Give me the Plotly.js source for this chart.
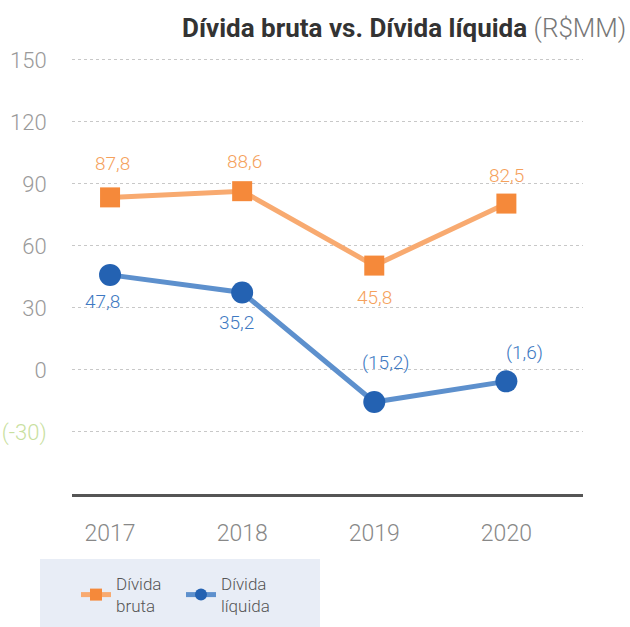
<!DOCTYPE html>
<html><head><meta charset="utf-8">
<script src="https://cdn.plot.ly/plotly-3.0.1.min.js"></script>
<style>body{margin:0;background:#fff}#c{width:630px;height:627px}</style>
</head><body><div id="c"></div>
<script>
const years = ["2017","2018","2019","2020"];
const brutaValues = [83.5, 86.5, 50.5, 80.5];
const liquidaValues = [46, 37.5, -15.5, -5.5];
const brutaLabels = ["87,8","88,6","45,8","82,5"];
const liquidaLabels = ["47,8","35,2","(15,2)","(1,6)"];
const yTicks = [-30, 0, 30, 60, 90, 120, 150];
const yTickText = ["<span style='color:#c9df9f'>(-30)</span>","0","30","60","90","120","150"];

const orange = "#f5893a", orangeLine = "#f8aa70", orangeText = "#f5a15c";
const blue = "#2462b2", blueLine = "#5d90cd", blueText = "#3e79c2";

const brutaOffsets = [[2,34],[2,30],[0,-32],[0,28]];
const liquidaOffsets = [[-8,-27],[-6,-30],[12,40],[18,29]];

const annotations = [];
brutaLabels.forEach((t,i)=>annotations.push({x:i, y:brutaValues[i], xref:'x', yref:'y', text:t, showarrow:false,
  xshift:brutaOffsets[i][0], yshift:brutaOffsets[i][1], font:{family:'Roboto', weight:300, size:19, color:orangeText}}));
liquidaLabels.forEach((t,i)=>annotations.push({x:i, y:liquidaValues[i], xref:'x', yref:'y', text:t, showarrow:false,
  xshift:liquidaOffsets[i][0], yshift:liquidaOffsets[i][1], font:{family:'Roboto', weight:300, size:19, color:blueText}}));
annotations.push({xref:'paper', yref:'paper', x:(628-72)/511, y:(494-28)/444, xanchor:'right', yanchor:'middle', showarrow:false,
  text:"<b>Dívida bruta vs. Dívida líquida</b> <span style='color:#777;font-weight:300'>(R$MM)</span>",
  font:{family:'Roboto', size:26, color:'#333'}});

const data = [
  {x:[0,1,2,3], y:brutaValues, type:'scatter', mode:'lines+markers', name:'Dívida<br>bruta',
   line:{color:orangeLine, width:5}, marker:{symbol:'square', size:20, color:orange}},
  {x:[0,1,2,3], y:liquidaValues, type:'scatter', mode:'lines+markers', name:'Dívida<br>líquida',
   line:{color:blueLine, width:5}, marker:{symbol:'circle', size:22, color:blue}}
];

const layout = {
  width:630, height:627,
  margin:{l:72, r:47, t:50, b:133, autoexpand:false},
  paper_bgcolor:'#fff', plot_bgcolor:'#fff',
  showlegend:true,
  xaxis:{range:[-0.288,3.58], tickvals:[0,1,2,3], ticktext:years, showgrid:false, zeroline:false,
    showline:true, linecolor:'#555', linewidth:3, ticks:'outside', ticklen:16, tickcolor:'rgba(0,0,0,0)',
    tickfont:{family:'Roboto', weight:300, size:23, color:'#888'}},
  yaxis:{range:[-60,154.8], tickvals:yTicks, ticktext:yTickText, showgrid:true, gridcolor:'#c8c8c8', griddash:'dot', gridwidth:1,
    zeroline:false, ticks:'outside', ticklen:20, tickcolor:'rgba(0,0,0,0)',
    tickfont:{family:'Roboto', weight:300, size:22, color:'#9a9a9a'}},
  shapes:[{type:'rect', xref:'paper', yref:'paper', x0:(40-72)/511, x1:(320-72)/511, y0:(494-559)/444, y1:(494-640)/444,
    fillcolor:'#e8edf6', line:{width:0}, layer:'below'}],
  legend:{orientation:'h', x:(76-72)/511, xanchor:'left', y:(494-566)/444, yanchor:'top', bgcolor:'rgba(0,0,0,0)',
    font:{family:'Roboto', weight:300, size:17, color:'#555'}, itemsizing:'constant', itemwidth:30,
    entrywidth:60, entrywidthmode:'pixels'},
  annotations:annotations
};
Plotly.newPlot('c', data, layout, {displayModeBar:false});
</script></body></html>
